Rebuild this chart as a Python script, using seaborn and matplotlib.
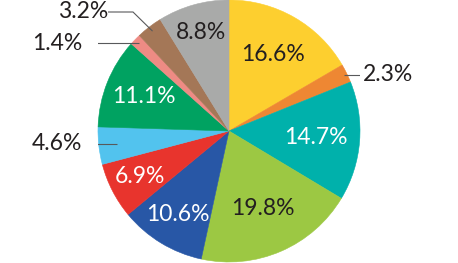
import numpy as np
import matplotlib
matplotlib.use("Agg")
import matplotlib.pyplot as plt
import seaborn as sns

# ---- data ----
shares = [16.6, 2.3, 14.7, 19.8, 10.6, 6.9, 4.6, 11.1, 1.4, 3.2, 8.8]
labels = ["16.6%", "2.3%", "14.7%", "19.8%", "10.6%", "6.9%", "4.6%", "11.1%", "1.4%", "3.2%", "8.8%"]
colors = ["#FDCF2F", "#EE8733", "#00B1AB", "#9CC843", "#2857A6", "#E8342D",
          "#52C3EE", "#00A261", "#EE8B84", "#A47757", "#A9AAA9"]

# ---- style (not data) ----
inside = [True, False, True, True, True, True, False, True, False, False, True]
label_r = [0.67, 0, 0.665, 0.645, 0.745, 0.765, 0, 0.70, 0, 0, 0.78]
text_col = ["#231F20", None, "white", "#231F20", "white", "white", None, "white", None, None, "#231F20"]
dark = "#231F20"
line_col = "#58595B"

sns.set_theme(style="white")
plt.rcParams["font.family"] = ["Lato", "DejaVu Sans"]

fig = plt.figure(figsize=(4.58, 2.63), dpi=100)
W, H = 458, 263
cx, cy, R = 229, 131, 131
ax = fig.add_axes([(cx - R) / W, (H - cy - R) / H, 2 * R / W, 2 * R / H])

pal = sns.color_palette(colors)
wedges, _ = ax.pie(shares, colors=pal, startangle=90, counterclock=False, radius=1,
                   wedgeprops=dict(linewidth=0.4, antialiased=True))
for w, c in zip(wedges, pal):
    w.set_edgecolor(c)
ax.set_xlim(-1, 1)
ax.set_ylim(-1, 1)
ax.set_aspect("equal")
ax.axis("off")

FS = 16.5
FW = "normal"
for i, w in enumerate(wedges):
    mid = np.deg2rad((w.theta1 + w.theta2) / 2)
    if inside[i]:
        r = label_r[i]
        ax.text(r * np.cos(mid), r * np.sin(mid), labels[i], ha="center", va="center",
                fontsize=FS, color=text_col[i], fontweight=FW)

def px(x):
    return (x - cx) / R

def py(y):
    return (cy - y) / R

# outside labels with leader lines
# 2.3%
i = 1
m = np.deg2rad((wedges[i].theta1 + wedges[i].theta2) / 2)
x0, y0 = 0.98 * np.cos(m), 0.98 * np.sin(m)
ax.plot([x0, px(362)], [y0, y0], color=line_col, lw=0.8, solid_capstyle="butt")
ax.text(px(363), y0, labels[i], ha="left", va="center", fontsize=FS, color=dark, fontweight=FW)
# 4.6%
i = 6
m = np.deg2rad((wedges[i].theta1 + wedges[i].theta2) / 2)
x0, y0 = 0.86 * np.cos(m), 0.86 * np.sin(m)
ax.plot([x0, px(85)], [y0, y0], color=line_col, lw=0.8, solid_capstyle="butt")
ax.text(px(82), y0, labels[i], ha="right", va="center", fontsize=FS, color=dark, fontweight=FW)
# 1.4%
i = 8
m = np.deg2rad((wedges[i].theta1 + wedges[i].theta2) / 2)
x0, y0 = 0.96 * np.cos(m), 0.96 * np.sin(m)
ax.plot([x0, px(85)], [y0, y0], color=line_col, lw=0.8, solid_capstyle="butt")
ax.text(px(82), y0, labels[i], ha="right", va="center", fontsize=FS, color=dark, fontweight=FW)
# 3.2%
i = 9
m = np.deg2rad((wedges[i].theta1 + wedges[i].theta2) / 2)
x0, y0 = 0.96 * np.cos(m), 0.96 * np.sin(m)
ax.plot([x0, px(133), px(108)], [y0, py(12), py(12)], color=line_col, lw=0.8,
        solid_capstyle="butt", solid_joinstyle="miter")
ax.text(px(108), py(12), labels[i], ha="right", va="center", fontsize=FS, color=dark, fontweight=FW)

fig.savefig("out.png", dpi=100)
